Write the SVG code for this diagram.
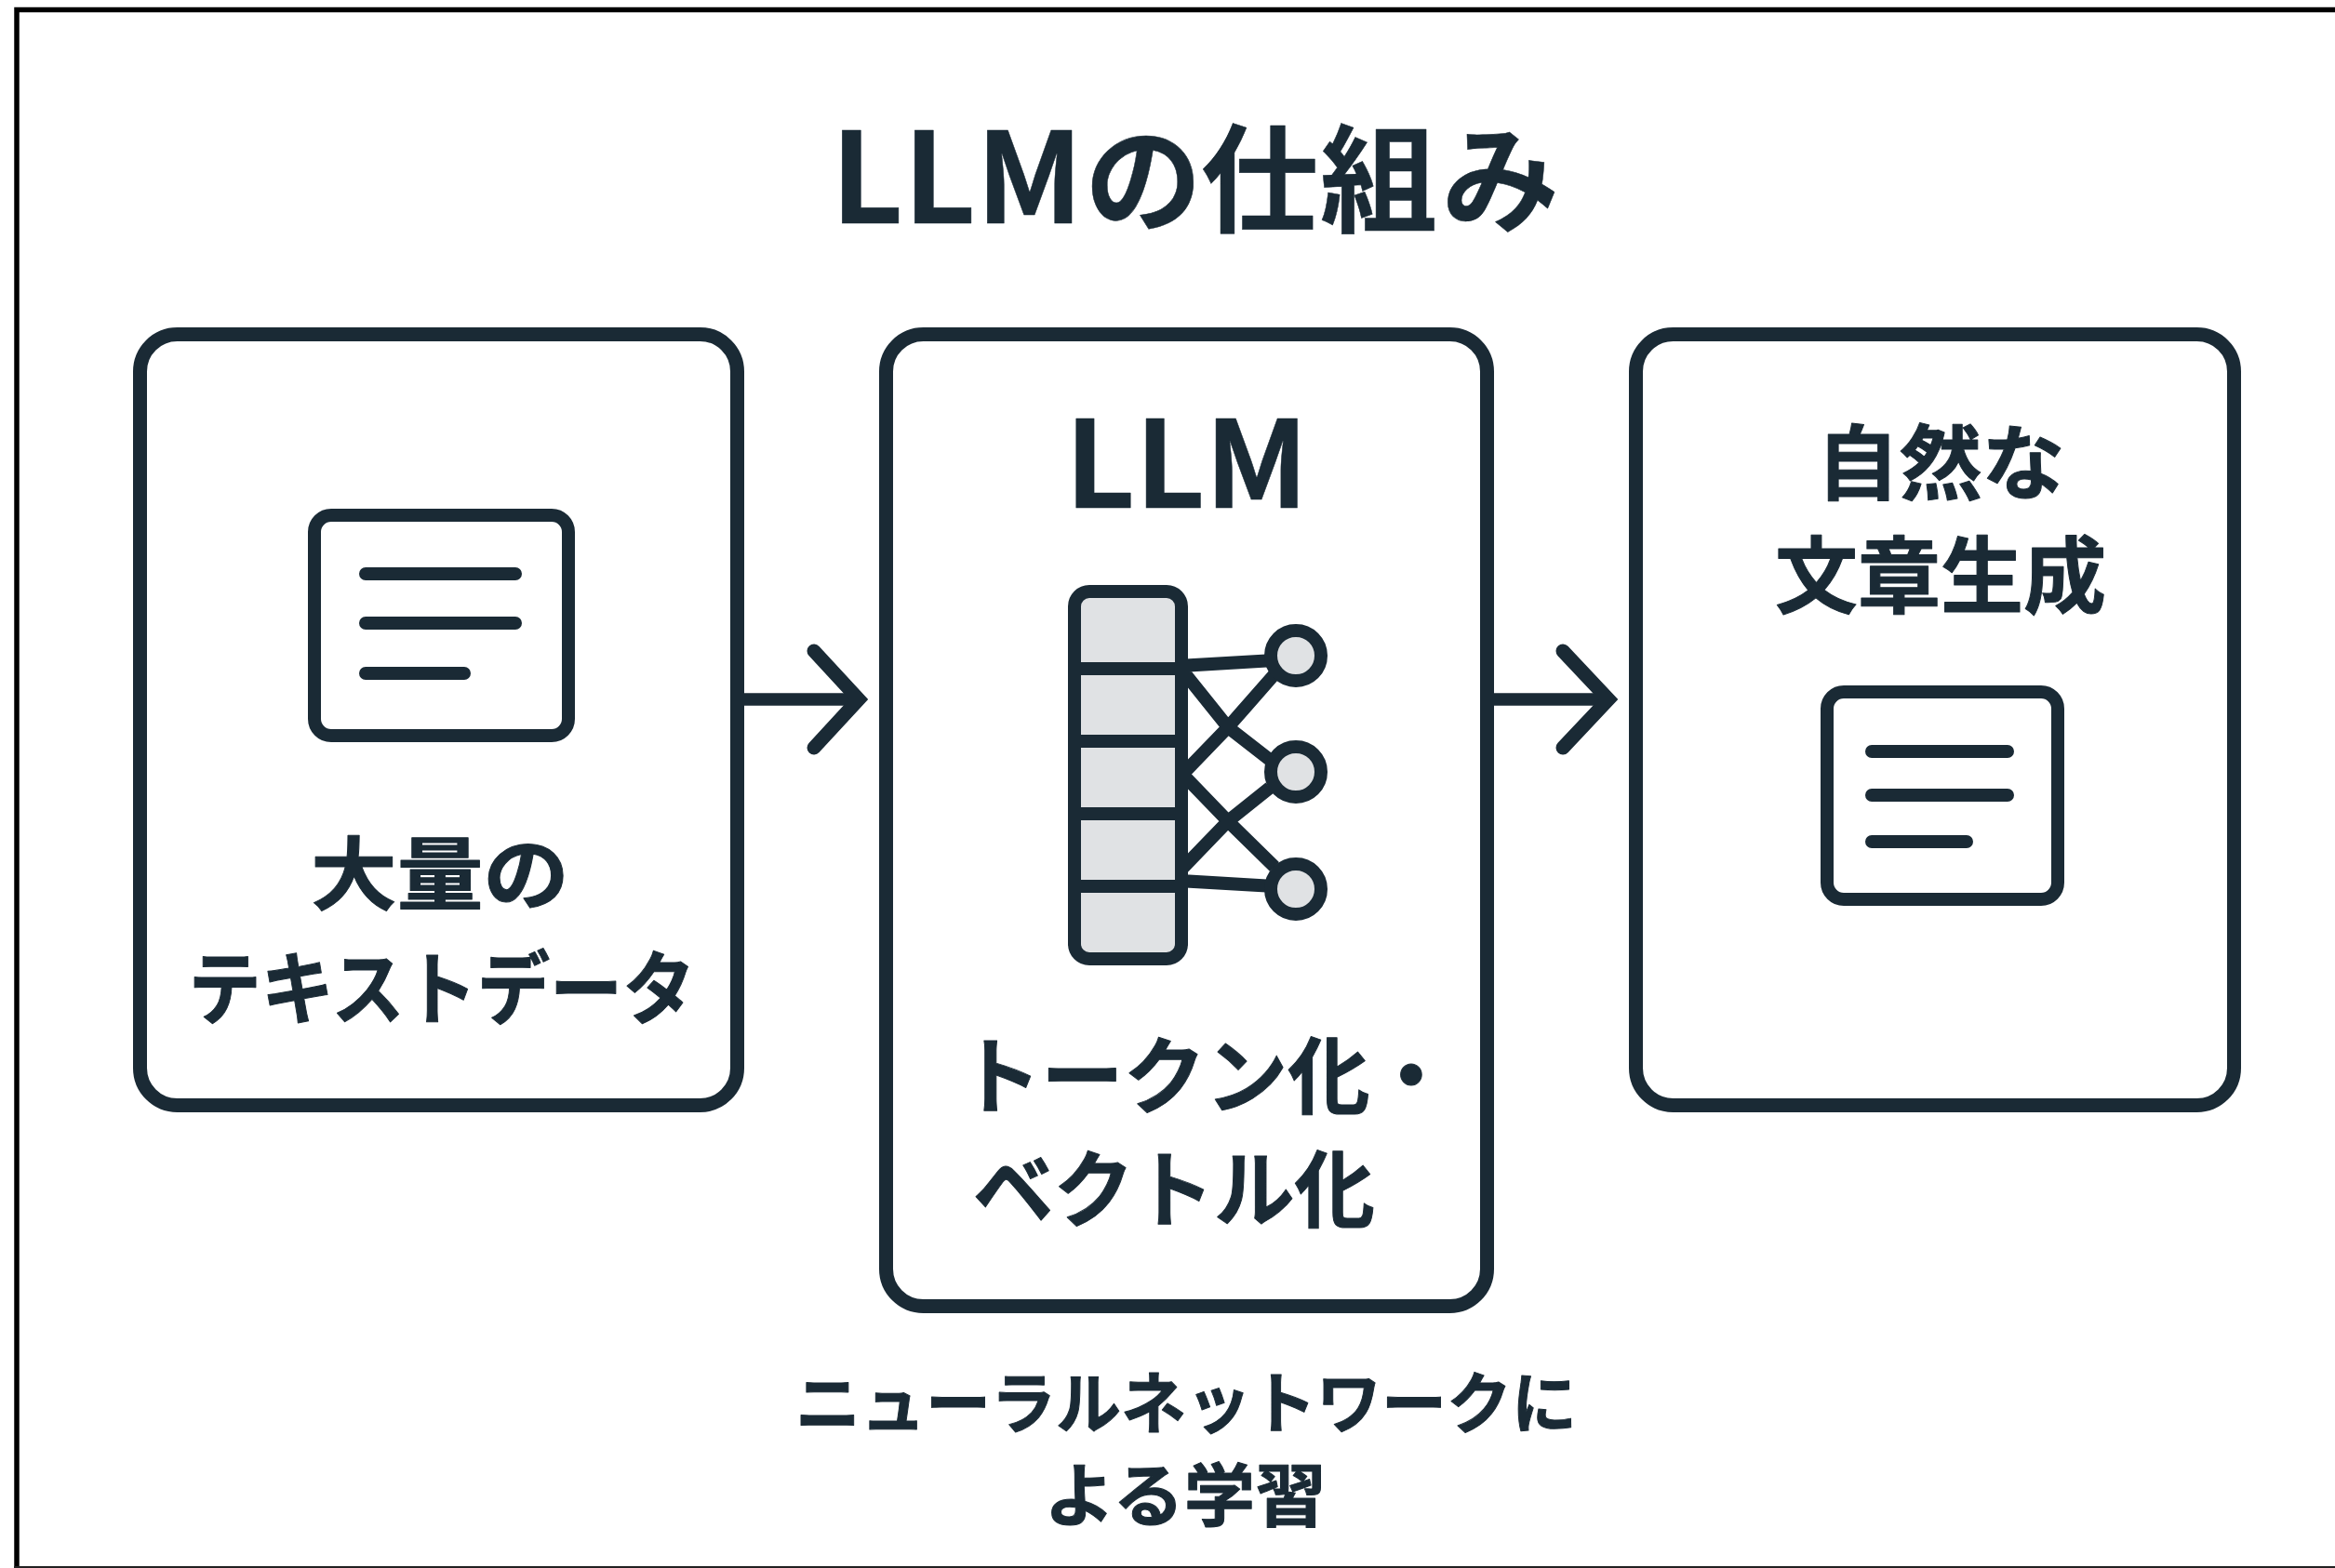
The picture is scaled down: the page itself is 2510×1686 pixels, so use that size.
<svg xmlns="http://www.w3.org/2000/svg" width="2510" height="1686" viewBox="0 0 2510 1686">
<style>
.t{font-family:"Noto Sans CJK JP","Noto Sans",sans-serif;font-weight:700;fill:#1a2a35;text-anchor:middle;stroke:#1a2a35;stroke-width:1;stroke-linejoin:round}
.s{text-anchor:start;stroke-width:0.500}
.box{fill:#fff;stroke:#1a2a35;stroke-width:15}
.ic{fill:#fff;stroke:#1a2a35;stroke-width:14}
.ln{fill:none;stroke:#1a2a35;stroke-width:14;stroke-linecap:round}
.ar{fill:none;stroke:#1a2a35;stroke-width:15;stroke-linecap:round;stroke-linejoin:miter;stroke-miterlimit:4}
.sh{fill:none;stroke:#1a2a35;stroke-width:13.500}
.cn{fill:none;stroke:#1a2a35;stroke-width:14;stroke-linejoin:round}
.g{fill:#e0e2e4;stroke:#1a2a35;stroke-width:14}
</style>
<rect width="2510" height="1686" fill="#fff"/>
<path d="M18 1686V10.500H2510" fill="none" stroke="#000" stroke-width="5.500"/>
<path d="M15 1685H2510" stroke="#222" stroke-width="2"/>
<text id="title" class="t s" y="240"><tspan x="893" font-size="135">LLM</tspan><tspan x="1166 1291 1419 1550" font-size="126">の仕組み</tspan></text>
<g id="node-input">
<rect class="box" x="150.500" y="359.500" width="642" height="829" rx="40"/>
<rect class="ic" x="338" y="554" width="273" height="237" rx="18"/>
<path class="ln" d="M393 617H554M393 670H554M393 724H499"/>
<text class="t" x="473" y="972" font-size="86" textLength="278" lengthAdjust="spacingAndGlyphs">大量の</text>
<text class="t" x="475" y="1095" font-size="86" textLength="545" lengthAdjust="spacingAndGlyphs">テキストデータ</text>
</g>
<g id="node-llm">
<rect class="box" x="952.500" y="359.500" width="646" height="1045" rx="40"/>
<text class="t s" x="1145" y="546" font-size="130">LLM</text>
<g id="network">
<path class="cn" d="M1268 716L1370 710M1268 717L1320 782L1365 817M1268 836L1320 782L1370 725M1268 829L1320 883L1370 932M1268 937L1320 883L1365 847M1268 947L1370 953"/>
<rect class="g" x="1155" y="636" width="115" height="395" rx="16"/>
<path class="cn" d="M1155 719H1277M1155 797H1277M1155 875H1277M1155 953H1277"/>
<circle class="g" cx="1393" cy="705" r="27"/>
<circle class="g" cx="1393" cy="830" r="27"/>
<circle class="g" cx="1393" cy="956" r="27"/>
</g>
<text class="t" x="1296" y="1190" font-size="90" textLength="530" lengthAdjust="spacingAndGlyphs">トークン化・</text>
<text class="t" x="1262" y="1312" font-size="90" textLength="432" lengthAdjust="spacingAndGlyphs">ベクトル化</text>
</g>
<g id="node-output">
<rect class="box" x="1758.500" y="359.500" width="643" height="829" rx="40"/>
<text class="t" x="2086" y="530" font-size="88" textLength="267" lengthAdjust="spacingAndGlyphs">自然な</text>
<text class="t" x="2086" y="652" font-size="90" textLength="356" lengthAdjust="spacingAndGlyphs">文章生成</text>
<rect class="ic" x="1964" y="744" width="248" height="223" rx="18"/>
<path class="ln" d="M2012 808H2158M2012 855H2158M2012 905H2114"/>
</g>
<g id="connectors">
<path class="sh" d="M800 752H915"/><path class="ar" d="M875 700L923 752L875 804"/>
<path class="sh" d="M1606 752H1722"/><path class="ar" d="M1680 700L1729 752L1680 804"/>
</g>
<text id="caption1" class="t" x="1275" y="1535" font-size="72" textLength="840" lengthAdjust="spacingAndGlyphs">ニューラルネットワークに</text>
<text id="caption2" class="t" x="1274" y="1635" font-size="74" textLength="303" lengthAdjust="spacingAndGlyphs">よる学習</text>
</svg>
